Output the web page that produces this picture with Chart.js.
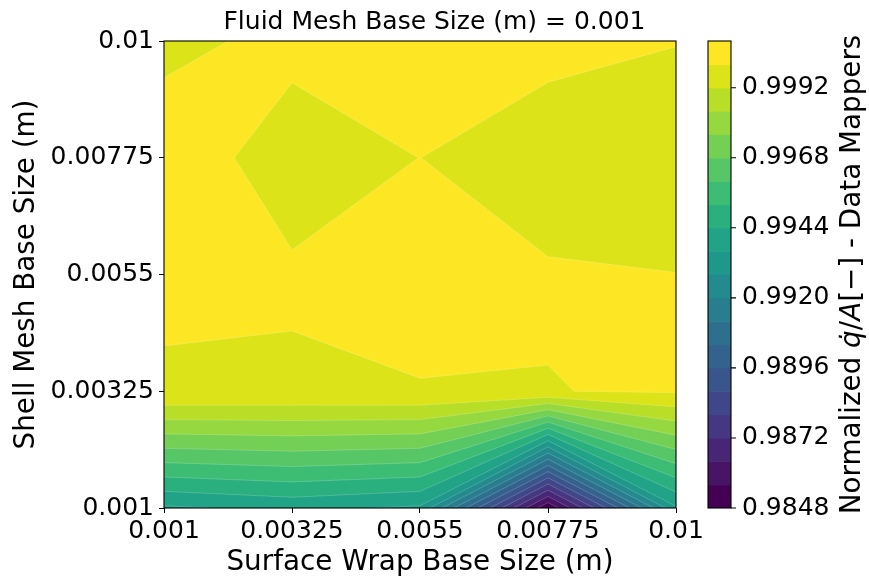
<!DOCTYPE html>
<html>
<head>
<meta charset="utf-8">
<title>Fluid Mesh Base Size (m) = 0.001</title>
<script src="https://cdn.jsdelivr.net/npm/chart.js@4.4.1/dist/chart.umd.min.js"></script>
<style>
  html, body { margin: 0; padding: 0; background: #fff; }
  #wrap { width: 869px; height: 579px; position: relative; }
</style>
</head>
<body>
<div id="wrap"><canvas id="contourChart"></canvas></div>
<script>
// grid coordinates (m)
const surfaceWrap = [0.001, 0.00325, 0.0055, 0.00775, 0.01];
const shellMesh = [0.001, 0.00325, 0.0055, 0.00775, 0.01];

// normalized q/A, one list per shell mesh size, read left to right along surface wrap
const shell_0_001 = [0.99347, 0.99384, 0.99347, 0.98490, 0.99350];
const shell_0_00325 = [0.99998, 0.999929, 0.99998, 0.999979, 1.000082];
const shell_0_0055 = [1.0000315, 1.0000665, 1.00016, 1.0000727, 1.0000073];
const shell_0_00775 = [1.000304, 0.99975, 1.0000033, 0.999594, 0.9996];
const shell_0_01 = [0.999861, 1.000139, 1.00078, 1.000222, 1.0000206];
const qa = [shell_0_001, shell_0_00325, shell_0_0055, shell_0_00775, shell_0_01];

// contour levels and tick labels
const levels = [0.9848, 0.9856, 0.9864, 0.9872, 0.9880, 0.9888, 0.9896, 0.9904, 0.9912, 0.9920, 0.9928,
                0.9936, 0.9944, 0.9952, 0.9960, 0.9968, 0.9976, 0.9984, 0.9992, 1.0000, 1.0008];
const xTicks = [0.001, 0.00325, 0.0055, 0.00775, 0.01];
const yTicks = [0.001, 0.00325, 0.0055, 0.00775, 0.01];
const cbTicks = [0.9848, 0.9872, 0.9896, 0.9920, 0.9944, 0.9968, 0.9992];

// viridis, sampled every 0.05
const viridis = [
    [68, 1, 84], [71, 19, 101], [72, 36, 117], [70, 52, 128], [65, 68, 135], [59, 82, 139],
    [53, 95, 141], [47, 108, 142], [42, 120, 142], [37, 132, 142], [33, 145, 140], [30, 156, 137],
    [34, 168, 132], [47, 180, 124], [68, 191, 112], [94, 201, 98], [122, 209, 81], [155, 217, 60],
    [189, 223, 38], [223, 227, 24], [253, 231, 37]
];

function viridisColor(t) {
    const f = Math.min(Math.max(t, 0), 1) * (viridis.length - 1);
    const i = Math.min(Math.floor(f), viridis.length - 2);
    const u = f - i;
    const c = viridis[i].map((a, k) => Math.round(a + u * (viridis[i + 1][k] - a)));
    return `rgb(${c[0]}, ${c[1]}, ${c[2]})`;
}

const nBands = levels.length - 1;
const bandColors = [];
for (let k = 0; k < nBands; k++) bandColors.push(viridisColor(k / (nBands - 1)));

// marching squares helpers (corners counter-clockwise, data coordinates)
function lerpPt(p, q, t) {
    return [p[0] + t * (q[0] - p[0]), p[1] + t * (q[1] - p[1])];
}

function edgeCross(P, v, m, L) {
    const a = m, b = (m + 1) % 4;
    return lerpPt(P[a], P[b], (L - v[a]) / (v[b] - v[a]));
}

// area of the quad where value >= L
function quadPieces(P, v, L) {
    const up = v.map(a => a >= L);
    const n = up.filter(Boolean).length;
    if (n === 0) return [];
    if (n === 4) return [P];
    if (n === 2 && up[0] === up[2]) {
        const mid = (v[0] + v[1] + v[2] + v[3]) / 4;
        if (mid < L) {
            const out = [];
            for (let m = 0; m < 4; m++) {
                if (up[m]) out.push([edgeCross(P, v, (m + 3) % 4, L), P[m], edgeCross(P, v, m, L)]);
            }
            return out;
        }
    }
    const poly = [];
    for (let m = 0; m < 4; m++) {
        if (up[m]) poly.push(P[m]);
        if (up[m] !== up[(m + 1) % 4]) poly.push(edgeCross(P, v, m, L));
    }
    return [poly];
}

// contour line pieces at level L
function quadSegments(P, v, L) {
    const up = v.map(a => a >= L);
    const cr = [];
    for (let m = 0; m < 4; m++) if (up[m] !== up[(m + 1) % 4]) cr.push(m);
    if (cr.length === 2) return [[edgeCross(P, v, cr[0], L), edgeCross(P, v, cr[1], L)]];
    if (cr.length === 4) {
        const midUp = (v[0] + v[1] + v[2] + v[3]) / 4 >= L;
        const segs = [];
        for (let m = 0; m < 4; m++) {
            if (up[m] !== midUp) segs.push([edgeCross(P, v, (m + 3) % 4, L), edgeCross(P, v, m, L)]);
        }
        return segs;
    }
    return [];
}

function eachQuad(fn) {
    for (let j = 0; j < shellMesh.length - 1; j++) {
        for (let i = 0; i < surfaceWrap.length - 1; i++) {
            const P = [[surfaceWrap[i], shellMesh[j]], [surfaceWrap[i + 1], shellMesh[j]],
                       [surfaceWrap[i + 1], shellMesh[j + 1]], [surfaceWrap[i], shellMesh[j + 1]]];
            const v = [qa[j][i], qa[j][i + 1], qa[j + 1][i + 1], qa[j + 1][i]];
            fn(P, v);
        }
    }
}

const contourPlugin = {
    id: 'contourFill',
    beforeDatasetsDraw(chart) {
        const {ctx, chartArea, scales} = chart;
        const px = p => [scales.x.getPixelForValue(p[0]), scales.y.getPixelForValue(p[1])];
        ctx.save();
        ctx.beginPath();
        ctx.rect(chartArea.left, chartArea.top, chartArea.width, chartArea.height);
        ctx.clip();

        for (let k = 0; k < nBands; k++) {
            ctx.beginPath();
            eachQuad((P, v) => {
                quadPieces(P, v, levels[k]).forEach(poly => {
                    poly.forEach((p, n) => {
                        const q = px(p);
                        if (n === 0) ctx.moveTo(q[0], q[1]); else ctx.lineTo(q[0], q[1]);
                    });
                    ctx.closePath();
                });
            });
            ctx.fillStyle = bandColors[k];
            ctx.fill();
        }

        // faint seams between bands, like the rasterised contourf
        ctx.strokeStyle = 'rgba(255, 255, 255, 0.28)';
        ctx.lineWidth = 0.7;
        ctx.beginPath();
        for (let k = 1; k < nBands; k++) {
            eachQuad((P, v) => {
                quadSegments(P, v, levels[k]).forEach(s => {
                    const a = px(s[0]), b = px(s[1]);
                    ctx.moveTo(a[0], a[1]);
                    ctx.lineTo(b[0], b[1]);
                });
            });
        }
        ctx.stroke();
        ctx.restore();
    },
    afterDraw(chart) {
        const {ctx, chartArea, scales} = chart;
        ctx.save();
        // plot frame
        ctx.strokeStyle = '#000';
        ctx.lineWidth = 1.1;
        ctx.strokeRect(chartArea.left, chartArea.top, chartArea.width, chartArea.height);

        // colour bar
        const cb = scales.cb;
        const x0 = chartArea.right + 32, w = 23;
        for (let k = 0; k < nBands; k++) {
            const top = cb.getPixelForValue(levels[k + 1]);
            const bot = cb.getPixelForValue(levels[k]);
            ctx.fillStyle = bandColors[k];
            ctx.fillRect(x0, top, w, bot - top + (k > 0 ? 0.6 : 0));
        }
        ctx.strokeRect(x0, cb.getPixelForValue(levels[nBands]), w,
            cb.getPixelForValue(levels[0]) - cb.getPixelForValue(levels[nBands]));
        ctx.beginPath();
        cbTicks.forEach(t => {
            const y = cb.getPixelForValue(t);
            ctx.moveTo(x0 + w, y);
            ctx.lineTo(x0 + w + 5, y);
        });
        ctx.stroke();

        // colour bar label, mathtext style
        const parts = [
            ['Normalized ', ''], ['q\u0307', 'italic '], ['/', ''], ['A', 'italic '],
            ['[\u2212]', ''], [' - Data Mappers', '']
        ];
        const size = 27.8;
        let total = 0;
        parts.forEach(p => {
            ctx.font = `${p[1]}${size}px "DejaVu Sans"`;
            total += ctx.measureText(p[0]).width;
        });
        ctx.translate(853, (chartArea.top + chartArea.bottom) / 2);
        ctx.rotate(-Math.PI / 2);
        ctx.fillStyle = '#000';
        ctx.textBaseline = 'middle';
        ctx.textAlign = 'left';
        let xPos = -total / 2;
        parts.forEach(p => {
            ctx.font = `${p[1]}${size}px "DejaVu Sans"`;
            ctx.fillText(p[0], xPos, 0);
            xPos += ctx.measureText(p[0]).width;
        });
        ctx.restore();
    }
};

const points = [];
shellMesh.forEach((y, j) => {
    surfaceWrap.forEach((x, i) => points.push({x: x, y: y, v: qa[j][i]}));
});

const tickFont = {family: 'DejaVu Sans', size: 25};
const labelFont = {family: 'DejaVu Sans', size: 27.8};

// keep the plot box where the reference has it
function fixWidth(w) {
    return s => { s.width = w; s.paddingTop = 0; s.paddingBottom = 0; };
}

new Chart(document.getElementById('contourChart'), {
    type: 'scatter',
    data: {
        datasets: [{
            label: 'grid',
            data: points,
            pointRadius: 0,
            pointHoverRadius: 0
        }]
    },
    options: {
        responsive: true,
        maintainAspectRatio: false,
        animation: false,
        layout: {padding: 0},
        plugins: {
            legend: {display: false},
            tooltip: {enabled: false},
            title: {
                display: true,
                text: 'Fluid Mesh Base Size (m) = 0.001',
                color: '#000',
                font: {family: 'DejaVu Sans', size: 25, weight: 'normal'},
                padding: {top: 7, bottom: 4}
            }
        },
        scales: {
            x: {
                type: 'linear',
                position: 'bottom',
                min: 0.001,
                max: 0.01,
                afterBuildTicks: s => { s.ticks = xTicks.map(v => ({value: v})); },
                afterFit: s => { s.height = 71; s.paddingLeft = 0; s.paddingRight = 0; },
                ticks: {
                    autoSkip: false, maxRotation: 0, color: '#000', font: tickFont, padding: 3,
                    callback: v => String(v)
                },
                grid: {display: true, drawOnChartArea: false, drawTicks: true, tickLength: 5, color: '#000', lineWidth: 1},
                border: {display: false},
                title: {display: true, text: 'Surface Wrap Base Size (m)', color: '#000', font: labelFont, padding: {top: 0, bottom: 0}}
            },
            y: {
                type: 'linear',
                position: 'left',
                min: 0.001,
                max: 0.01,
                afterBuildTicks: s => { s.ticks = yTicks.map(v => ({value: v})); },
                afterFit: fixWidth(164),
                ticks: {
                    autoSkip: false, color: '#000', font: tickFont, padding: 5,
                    callback: v => String(v)
                },
                grid: {display: true, drawOnChartArea: false, drawTicks: true, tickLength: 5, color: '#000', lineWidth: 1},
                border: {display: false},
                title: {display: true, text: 'Shell Mesh Base Size (m)', color: '#000', font: labelFont, padding: {top: 10, bottom: 0}}
            },
            cb: {
                type: 'linear',
                position: 'right',
                min: levels[0],
                max: levels[levels.length - 1],
                afterBuildTicks: s => { s.ticks = cbTicks.map(v => ({value: v})); },
                afterFit: fixWidth(193),
                ticks: {
                    autoSkip: false, color: '#000', font: tickFont, padding: 66,
                    callback: v => v.toFixed(4)
                },
                grid: {display: false, drawTicks: false},
                border: {display: false}
            }
        }
    },
    plugins: [contourPlugin]
});
</script>
</body>
</html>
